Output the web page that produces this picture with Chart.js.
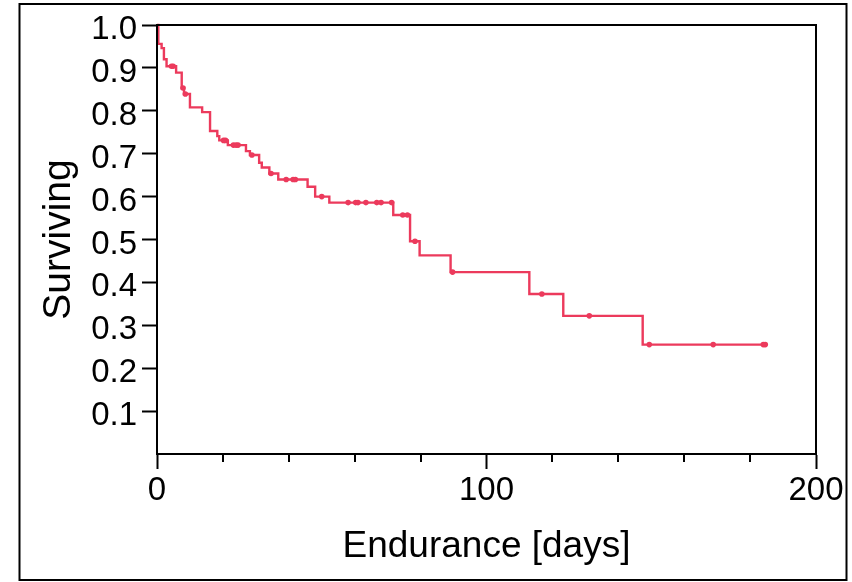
<!DOCTYPE html>
<html>
<head>
<meta charset="utf-8">
<script src="https://cdn.jsdelivr.net/npm/chart.js@4.4.0/dist/chart.umd.min.js"></script>
<style>
html,body{margin:0;padding:0;background:#fff;}
#wrap{width:852px;height:582px;position:relative;}
</style>
</head>
<body>
<div id="wrap"><canvas id="c" width="852" height="582"></canvas></div>
<script>
// Kaplan-Meier step curve: event times (days) and survival after each event
const eventDays     = [0, 0.4, 1.4, 2.1, 2.9, 5.8, 7.5, 8.2, 10.0, 13.7, 16.1, 18.3, 18.9, 21.5, 27.0, 28.2, 31.0, 31.8, 34.1, 36.8, 45.7, 48.0, 52.3, 71.7, 76.8, 79.7, 89.1, 113.0, 123.3, 147.4, 184.7];
const eventSurvival = [1.0, 0.956, 0.946, 0.920, 0.904, 0.889, 0.853, 0.839, 0.808, 0.797, 0.753, 0.741, 0.731, 0.720, 0.706, 0.697, 0.679, 0.668, 0.654, 0.640, 0.623, 0.600, 0.586, 0.557, 0.496, 0.463, 0.424, 0.373, 0.322, 0.255, 0.255];

// Censored observations (markers)
const censorDays     = [4.4, 4.9, 7.9, 8.6, 20.2, 20.8, 23.2, 24.0, 24.6, 28.8, 34.6, 39.2, 41.3, 42.0, 50.0, 58.0, 60.3, 61.0, 63.4, 66.7, 68.0, 71.2, 74.6, 76.0, 78.3, 89.7, 116.8, 131.2, 149.4, 168.8, 184.0, 184.6];
const censorSurvival = [0.904, 0.904, 0.853, 0.839, 0.731, 0.731, 0.720, 0.720, 0.720, 0.697, 0.654, 0.640, 0.640, 0.640, 0.600, 0.586, 0.586, 0.586, 0.586, 0.586, 0.586, 0.586, 0.557, 0.557, 0.496, 0.424, 0.373, 0.322, 0.255, 0.255, 0.255, 0.255];

// Axis ticks
const xMajorTicks = [0, 100, 200];
const xMinorTicks = [20, 40, 60, 80, 120, 140, 160, 180];
const yTickLabels = ['0.1','0.2','0.3','0.4','0.5','0.6','0.7','0.8','0.9','1.0'];

const lineColor = 'rgb(236,58,92)';
const FONT = '"Liberation Sans", Arial, sans-serif';

const framePlugin = {
  id: 'frames',
  afterDraw(chart) {
    const ctx = chart.ctx;
    const a = chart.chartArea;
    const xs = chart.scales.x;
    ctx.save();
    ctx.strokeStyle = '#000';
    ctx.lineWidth = 2;
    ctx.strokeRect(a.left, a.top, a.right - a.left, a.bottom - a.top);
    // minor ticks
    xMinorTicks.forEach(v => {
      const px = Math.round(xs.getPixelForValue(v));
      ctx.beginPath();
      ctx.moveTo(px, a.bottom);
      ctx.lineTo(px, a.bottom + 8);
      ctx.stroke();
    });
    // outer frame
    ctx.strokeRect(19.5, 4, 827, 576);
    ctx.restore();
  }
};

new Chart(document.getElementById('c'), {
  type: 'line',
  data: {
    datasets: [
      {
        data: eventDays.map((d, i) => ({x: d, y: eventSurvival[i]})),
        stepped: true,
        borderColor: lineColor,
        borderWidth: 2.4,
        pointRadius: 0,
        fill: false,
        clip: false
      },
      {
        data: censorDays.map((d, i) => ({x: d, y: censorSurvival[i]})),
        showLine: false,
        pointRadius: 2.8,
        pointBackgroundColor: lineColor,
        pointBorderWidth: 0,
        clip: false
      }
    ]
  },
  options: {
    responsive: false,
    animation: false,
    devicePixelRatio: 1,
    layout: {padding: {left: 0, top: 25, right: 36, bottom: 0}},
    plugins: {legend: {display: false}, tooltip: {enabled: false}},
    scales: {
      x: {
        type: 'linear',
        min: 0, max: 200,
        afterBuildTicks: s => { s.ticks = xMajorTicks.map(v => ({value: v})); },
        ticks: {
          color: '#000',
          font: {family: FONT, size: 33},
          padding: 2,
          maxRotation: 0,
          callback: v => String(v)
        },
        grid: {drawOnChartArea: false, drawTicks: true, tickLength: 15, tickWidth: 2, tickColor: '#000'},
        border: {display: true, color: '#000', width: 2},
        title: {display: true, text: 'Endurance [days]', color: '#000', font: {family: FONT, size: 37}, padding: {top: 0, bottom: 13}},
        afterFit: s => { s.height = 128; }
      },
      y: {
        type: 'linear',
        min: 0, max: 1,
        afterBuildTicks: s => { s.ticks = [{value: 0}].concat(yTickLabels.map(t => ({value: parseFloat(t)}))); },
        ticks: {
          color: '#000',
          font: {family: FONT, size: 33},
          padding: 5,
          labelOffset: 5,
          callback: v => v === 0 ? '' : (yTickLabels.find(t => Math.abs(parseFloat(t) - v) < 1e-9) || '')
        },
        grid: {
          drawOnChartArea: false, drawTicks: true, tickLength: 15, tickWidth: 2,
          tickColor: c => (c.tick && c.tick.value === 0) ? 'rgba(0,0,0,0)' : '#000'
        },
        border: {display: true, color: '#000', width: 2},
        title: {display: true, text: 'Surviving', color: '#000', font: {family: FONT, size: 39}, padding: {top: 36, bottom: 0}},
        afterFit: s => { s.width = 157; }
      }
    }
  },
  plugins: [framePlugin]
});
</script>
</body>
</html>
